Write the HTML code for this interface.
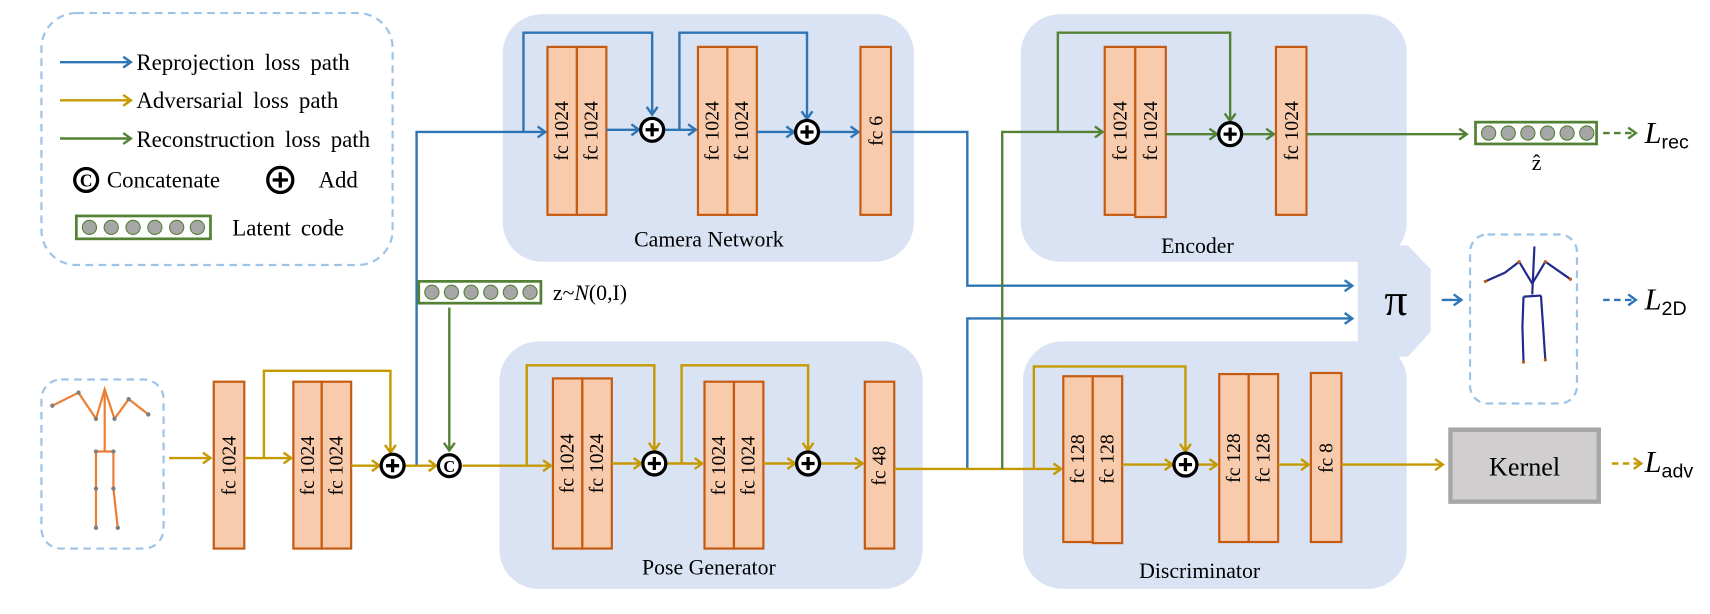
<!DOCTYPE html>
<html><head><meta charset="utf-8"><style>
html,body{margin:0;padding:0;background:#fff;width:1710px;height:614px;overflow:hidden}
svg{display:block}
text{font-family:"Liberation Serif",serif;fill:#000}
</style></head><body>
<svg width="1710" height="614" viewBox="0 0 1568 563" xmlns="http://www.w3.org/2000/svg">
<defs>
<marker id="ab" markerWidth="12" markerHeight="12" refX="9" refY="6" orient="auto" markerUnits="userSpaceOnUse"><path d="M2,1 L9,6 L2,11" fill="none" stroke="#2e75b6" stroke-width="2.2"/></marker>
<marker id="ag" markerWidth="12" markerHeight="12" refX="9" refY="6" orient="auto" markerUnits="userSpaceOnUse"><path d="M2,1 L9,6 L2,11" fill="none" stroke="#c49a00" stroke-width="2.2"/></marker>
<marker id="agr" markerWidth="12" markerHeight="12" refX="9" refY="6" orient="auto" markerUnits="userSpaceOnUse"><path d="M2,1 L9,6 L2,11" fill="none" stroke="#548235" stroke-width="2.2"/></marker>
</defs>

<!-- legend -->
<rect x="38" y="12" width="322" height="231" rx="32" fill="none" stroke="#9dc3e6" stroke-width="2" stroke-dasharray="7,5"/>
<g stroke-width="2.2" fill="none">
<line x1="55" y1="57" x2="120" y2="57" stroke="#2e75b6" marker-end="url(#ab)"/>
<line x1="55" y1="92" x2="120" y2="92" stroke="#c49a00" marker-end="url(#ag)"/>
<line x1="55" y1="127" x2="120" y2="127" stroke="#548235" marker-end="url(#agr)"/>
</g>
<g font-size="21" word-spacing="4">
<text x="125" y="64">Reprojection loss path</text>
<text x="125" y="99">Adversarial loss path</text>
<text x="125" y="135">Reconstruction loss path</text>
<text x="98" y="172">Concatenate</text>
<text x="292" y="172">Add</text>
<text x="213" y="216">Latent code</text>
</g>
<circle cx="79" cy="165" r="10.5" fill="#fff" stroke="#000" stroke-width="3"/><text x="79" y="171" font-size="16" font-weight="bold" text-anchor="middle" font-family="Liberation Sans">C</text>
<g><circle cx="257" cy="165" r="11.5" fill="#fff" stroke="#000" stroke-width="3"/><line x1="250" y1="165" x2="264" y2="165" stroke="#000" stroke-width="3"/><line x1="257" y1="158" x2="257" y2="172" stroke="#000" stroke-width="3"/></g>
<rect x="70" y="198" width="123" height="21" fill="#fff" stroke="#548235" stroke-width="2.5"/>
<g fill="#a6a6a6" stroke="#548235" stroke-width="1"><circle cx="82" cy="208.5" r="6.5"/><circle cx="102" cy="208.5" r="6.5"/><circle cx="122" cy="208.5" r="6.5"/><circle cx="142" cy="208.5" r="6.5"/><circle cx="162" cy="208.5" r="6.5"/><circle cx="181" cy="208.5" r="6.5"/></g>

<!-- module backgrounds -->
<rect x="461" y="13" width="377" height="227" rx="36" fill="#dae3f3"/>
<rect x="936" y="13" width="354" height="227" rx="36" fill="#dae3f3"/>
<rect x="458" y="313" width="388" height="227" rx="36" fill="#dae3f3"/>
<rect x="938" y="313" width="352" height="227" rx="36" fill="#dae3f3"/>
<polygon points="1245,225 1291,225 1312,247 1312,304 1291,327 1245,327" fill="#dae3f3"/>
<text x="1280" y="289" font-size="42" text-anchor="middle">π</text>

<g font-size="20" text-anchor="middle">
<text x="650" y="226">Camera Network</text>
<text x="1098" y="232">Encoder</text>
<text x="650" y="527">Pose Generator</text>
<text x="1100" y="530">Discriminator</text>
</g>

<!-- blocks -->
<g fill="#f8cbad" stroke="#c55a11" stroke-width="2">
<rect x="502" y="43" width="27" height="154"/><rect x="529" y="43" width="27" height="154"/>
<rect x="640" y="43" width="27" height="154"/><rect x="667" y="43" width="27" height="154"/>
<rect x="789" y="43" width="28" height="154"/>
<rect x="1013" y="43" width="28" height="154"/><rect x="1041" y="43" width="28" height="156"/>
<rect x="1170" y="43" width="28" height="154"/>
<rect x="196" y="350" width="28" height="153"/>
<rect x="269" y="350" width="26" height="153"/><rect x="295" y="350" width="27" height="153"/>
<rect x="507" y="347" width="27" height="156"/><rect x="534" y="347" width="27" height="156"/>
<rect x="646" y="350" width="27" height="153"/><rect x="673" y="350" width="27" height="153"/>
<rect x="793" y="350" width="27" height="153"/>
<rect x="975" y="345" width="27" height="152"/><rect x="1002" y="345" width="27" height="153"/>
<rect x="1118" y="343" width="27" height="154"/><rect x="1145" y="343" width="27" height="154"/>
<rect x="1202" y="342" width="28" height="155"/>
</g>
<g font-size="18" text-anchor="middle">
<text transform="translate(521,120) rotate(-90)">fc 1024</text>
<text transform="translate(548,120) rotate(-90)">fc 1024</text>
<text transform="translate(659,120) rotate(-90)">fc 1024</text>
<text transform="translate(686,120) rotate(-90)">fc 1024</text>
<text transform="translate(809,120) rotate(-90)">fc 6</text>
<text transform="translate(1033,120) rotate(-90)">fc 1024</text>
<text transform="translate(1061,120) rotate(-90)">fc 1024</text>
<text transform="translate(1190,120) rotate(-90)">fc 1024</text>
<text transform="translate(216,427) rotate(-90)">fc 1024</text>
<text transform="translate(288,427) rotate(-90)">fc 1024</text>
<text transform="translate(314,427) rotate(-90)">fc 1024</text>
<text transform="translate(526,425) rotate(-90)">fc 1024</text>
<text transform="translate(553,425) rotate(-90)">fc 1024</text>
<text transform="translate(665,427) rotate(-90)">fc 1024</text>
<text transform="translate(692,427) rotate(-90)">fc 1024</text>
<text transform="translate(812,427) rotate(-90)">fc 48</text>
<text transform="translate(994,421) rotate(-90)">fc 128</text>
<text transform="translate(1021,421) rotate(-90)">fc 128</text>
<text transform="translate(1137,420) rotate(-90)">fc 128</text>
<text transform="translate(1164,420) rotate(-90)">fc 128</text>
<text transform="translate(1222,420) rotate(-90)">fc 8</text>
</g>

<!-- blue paths -->
<g fill="none" stroke="#2e75b6" stroke-width="2.2">
<polyline points="382,427 382,121 500,121" marker-end="url(#ab)"/>
<polyline points="480,121 480,30 598,30 598,105" marker-end="url(#ab)"/>
<line x1="556" y1="119" x2="586" y2="119" marker-end="url(#ab)"/>
<line x1="609" y1="119" x2="638" y2="119" marker-end="url(#ab)"/>
<polyline points="623,119 623,30 740,30 740,109" marker-end="url(#ab)"/>
<line x1="694" y1="121" x2="728" y2="121" marker-end="url(#ab)"/>
<line x1="751" y1="121" x2="787" y2="121" marker-end="url(#ab)"/>
<polyline points="817,121 887,121 887,262 1240,262" marker-end="url(#ab)"/>
<polyline points="887,430 887,292 1240,292" marker-end="url(#ab)"/>
<line x1="1322" y1="275" x2="1340" y2="275" marker-end="url(#ab)"/>
<line x1="1470" y1="275" x2="1500" y2="275" stroke-dasharray="6,4" marker-end="url(#ab)"/>
</g>

<!-- gold paths -->
<g fill="none" stroke="#c49a00" stroke-width="2.2">
<line x1="155" y1="420" x2="193" y2="420" marker-end="url(#ag)"/>
<line x1="224" y1="420" x2="267" y2="420" marker-end="url(#ag)"/>
<polyline points="242,420 242,340 358,340 358,415" marker-end="url(#ag)"/>
<line x1="322" y1="427" x2="348" y2="427" marker-end="url(#ag)"/>
<line x1="371" y1="427" x2="400" y2="427" marker-end="url(#ag)"/>
<line x1="424" y1="427" x2="505" y2="427" marker-end="url(#ag)"/>
<polyline points="483,427 483,335 600,335 600,413" marker-end="url(#ag)"/>
<line x1="561" y1="425" x2="588" y2="425" marker-end="url(#ag)"/>
<line x1="611" y1="425" x2="644" y2="425" marker-end="url(#ag)"/>
<polyline points="625,425 625,335 741,335 741,413" marker-end="url(#ag)"/>
<line x1="700" y1="425" x2="729" y2="425" marker-end="url(#ag)"/>
<line x1="752" y1="425" x2="791" y2="425" marker-end="url(#ag)"/>
<polyline points="820,430 973,430" marker-end="url(#ag)"/>
<polyline points="948,430 948,336 1087,336 1087,414" marker-end="url(#ag)"/>
<line x1="1029" y1="426" x2="1075" y2="426" marker-end="url(#ag)"/>
<line x1="1098" y1="426" x2="1116" y2="426" marker-end="url(#ag)"/>
<line x1="1172" y1="426" x2="1200" y2="426" marker-end="url(#ag)"/>
<line x1="1230" y1="426" x2="1323" y2="426" marker-end="url(#ag)"/>
<line x1="1478" y1="425" x2="1505" y2="425" stroke-dasharray="6,4" marker-end="url(#ag)"/>
</g>

<!-- green paths -->
<g fill="none" stroke="#548235" stroke-width="2.2">
<line x1="412" y1="282" x2="412" y2="413" marker-end="url(#agr)"/>
<polyline points="919,430 919,121 1011,121" marker-end="url(#agr)"/>
<polyline points="970,121 970,30 1128,30 1128,111" marker-end="url(#agr)"/>
<line x1="1069" y1="123" x2="1116" y2="123" marker-end="url(#agr)"/>
<line x1="1139" y1="123" x2="1168" y2="123" marker-end="url(#agr)"/>
<line x1="1198" y1="123" x2="1345" y2="123" marker-end="url(#agr)"/>
<line x1="1470" y1="122" x2="1500" y2="122" stroke-dasharray="6,4" marker-end="url(#agr)"/>
</g>

<!-- add / concat symbols -->
<g stroke="#000" stroke-width="3" fill="#fff">
<circle cx="598" cy="119" r="10.5"/><path d="M592,119 H604 M598,113 V125"/>
<circle cx="740" cy="121" r="10.5"/><path d="M734,121 H746 M740,115 V127"/>
<circle cx="1128" cy="123" r="10.5"/><path d="M1122,123 H1134 M1128,117 V129"/>
<circle cx="360" cy="427" r="10.5"/><path d="M354,427 H366 M360,421 V433"/>
<circle cx="600" cy="425" r="10.5"/><path d="M594,425 H606 M600,419 V431"/>
<circle cx="741" cy="425" r="10.5"/><path d="M735,425 H747 M741,419 V431"/>
<circle cx="1087" cy="426" r="10.5"/><path d="M1081,426 H1093 M1087,420 V432"/>
<circle cx="412" cy="427" r="10"/>
</g>
<text x="412" y="433" font-size="15" font-weight="bold" text-anchor="middle" font-family="Liberation Sans">C</text>

<!-- latent z -->
<rect x="384" y="258" width="112" height="20" fill="#fff" stroke="#548235" stroke-width="2.5"/>
<g fill="#a6a6a6" stroke="#548235" stroke-width="1"><circle cx="396" cy="268" r="6.5"/><circle cx="414" cy="268" r="6.5"/><circle cx="432" cy="268" r="6.5"/><circle cx="450" cy="268" r="6.5"/><circle cx="468" cy="268" r="6.5"/><circle cx="486" cy="268" r="6.5"/></g>
<text x="507" y="275" font-size="20">z~<tspan font-style="italic">N</tspan>(0,I)</text>

<!-- z hat -->
<rect x="1353" y="112" width="111" height="20" fill="#fff" stroke="#548235" stroke-width="2.5"/>
<g fill="#a6a6a6" stroke="#548235" stroke-width="1"><circle cx="1365" cy="122" r="6.5"/><circle cx="1383" cy="122" r="6.5"/><circle cx="1401" cy="122" r="6.5"/><circle cx="1419" cy="122" r="6.5"/><circle cx="1437" cy="122" r="6.5"/><circle cx="1455" cy="122" r="6.5"/></g>
<text x="1409" y="156" font-size="20" text-anchor="middle">ẑ</text>

<!-- loss labels -->
<text x="1508" y="131" font-size="28" font-style="italic">L<tspan font-style="normal" font-size="18" font-family="Liberation Sans" dy="5">rec</tspan></text>
<text x="1508" y="284" font-size="28" font-style="italic">L<tspan font-style="normal" font-size="18" font-family="Liberation Sans" dy="5">2D</tspan></text>
<text x="1508" y="433" font-size="28" font-style="italic">L<tspan font-style="normal" font-size="18" font-family="Liberation Sans" dy="5">adv</tspan></text>

<!-- kernel -->
<rect x="1330" y="394" width="136" height="66" fill="#d0cece" stroke="#a6a6a6" stroke-width="4"/>
<text x="1398" y="436" font-size="24" text-anchor="middle">Kernel</text>

<!-- input skeleton -->
<rect x="38" y="348" width="112" height="155" rx="18" fill="none" stroke="#9dc3e6" stroke-width="2" stroke-dasharray="7,5"/>
<g fill="none" stroke="#ed7d31" stroke-width="2">
<polyline points="48,372 72,360 88,384 96,357 105,384 118,366 136,380"/>
<line x1="96" y1="357" x2="96" y2="414"/>
<polyline points="88,414 104,414"/>
<polyline points="88,414 88,448 88,484"/>
<polyline points="104,414 104,448 108,484"/>
</g>
<g fill="#7f7f7f"><circle cx="48" cy="372" r="2"/><circle cx="72" cy="360" r="2"/><circle cx="88" cy="384" r="2"/><circle cx="105" cy="384" r="2"/><circle cx="118" cy="366" r="2"/><circle cx="136" cy="380" r="2"/><circle cx="88" cy="414" r="2"/><circle cx="104" cy="414" r="2"/><circle cx="88" cy="448" r="2"/><circle cx="104" cy="448" r="2"/><circle cx="88" cy="484" r="2"/><circle cx="108" cy="484" r="2"/></g>

<!-- output skeleton -->
<rect x="1348" y="215" width="98" height="155" rx="16" fill="none" stroke="#9dc3e6" stroke-width="2" stroke-dasharray="7,5"/>
<g fill="none" stroke="#1f2a8a" stroke-width="2">
<polyline points="1362,258 1380,250 1393,240 1405,260 1417,240 1440,256"/>
<line x1="1407" y1="226" x2="1405" y2="270"/>
<polyline points="1397,272 1413,271"/>
<polyline points="1397,272 1396,300 1397,332"/>
<polyline points="1413,271 1415,300 1417,330"/>
</g>
<g fill="#c55a11"><circle cx="1362" cy="258" r="1.5"/><circle cx="1440" cy="256" r="1.5"/><circle cx="1393" cy="240" r="1.5"/><circle cx="1417" cy="240" r="1.5"/><circle cx="1397" cy="332" r="1.5"/><circle cx="1417" cy="330" r="1.5"/></g>
</svg>
</body></html>
